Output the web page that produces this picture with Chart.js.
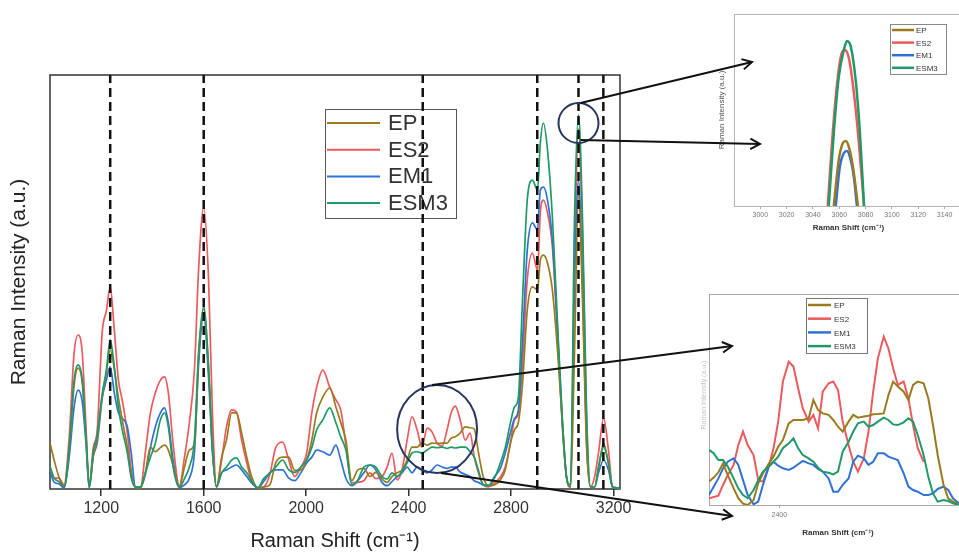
<!DOCTYPE html>
<html>
<head>
<meta charset="utf-8">
<script src="https://cdn.jsdelivr.net/npm/chart.js@4.4.1/dist/chart.umd.min.js"></script>
<style>
  html, body { margin: 0; padding: 0; background: #fff; width: 959px; height: 553px; overflow: hidden; position: relative; }
  canvas { position: absolute; display: block; }
  #main { left: 0; top: 0; z-index: 3; width: 959px; height: 553px; }
  #topInset { left: 700px; top: 0; z-index: 1; width: 275px; height: 240px; }
  #lowInset { left: 700px; top: 285px; z-index: 1; width: 280px; height: 268px; }
</style>
</head>
<body>
<canvas id="topInset" width="275" height="240"></canvas>
<canvas id="lowInset" width="280" height="268"></canvas>
<canvas id="main" width="959" height="553"></canvas>
<script>
const FONT = '"Liberation Sans", Arial, Helvetica, sans-serif';

// Samples and their colours
const sampleNames = ['EP', 'ES2', 'EM1', 'ESM3'];
const sampleColors = ['#9b7a1f', '#ec5a5e', '#2f72d6', '#1f9a66'];
const drawOrder = [1, 3, 2, 0];

// ---- Full spectrum (Raman shift, cm-1) ----
const shifts = [
  1000,1016,1036,1055,1075,1094,1110,1126,1141,1153,
  1169,1184,1204,1220,1235,1251,1267,1282,1302,1317,
  1333,1353,1372,1392,1411,1431,1447,1462,1482,1505,
  1525,1544,1564,1580,1600,1619,1634,1650,1670,1689,
  1709,1728,1748,1768,1787,1811,1834,1858,1881,1908,
  1932,1955,1979,2002,2022,2041,2065,2092,2116,2135,
  2155,2178,2202,2225,2249,2272,2296,2316,2335,2355,
  2374,2394,2413,2433,2452,2472,2491,2511,2531,2550,
  2566,2582,2601,2621,2640,2656,2672,2691,2711,2734,
  2758,2777,2797,2813,2828,2844,2863,2883,2903,2914,
  2926,2942,2961,2981,3000,3016,3032,3047,3063,3079,
  3094,3110,3126,3141,3161,3180,3196,3212,3225
];
const epIntensity = [
  11.1,7,2.7,0.5,9.4,25,29.2,25.6,11.8,0.5,
  8,12,22.5,28,33.6,29,22,16.7,10,3.4,
  0.5,0.3,3.9,10.1,9,10,10.6,9.4,5.3,0.4,
  5.3,9.4,11,32,43.5,29,10,0.5,7.7,11.8,
  18.4,18.4,13.5,7.7,3,0.3,0.5,1,6.3,7.7,
  7.7,4.5,4.6,7,11.8,18.4,22.2,24.4,19.8,16,
  11.8,2,4.6,5,3,4,2.4,1.6,3,3.9,
  4.6,7,10.1,10.1,11.1,10.6,11.1,11,11.1,11.1,
  12.3,12.6,13.5,15,14.8,14.5,9,3,0.8,1,
  2.2,4.6,11,14.3,16,25,43.2,48.8,48.1,55.3,
  56.5,54.6,48.1,33.6,16,3,0.5,32,71,45,
  11,0.5,0.5,5,11,6,0.5,0.3,0.3
];
const es2Intensity = [
  5,2.7,2.6,1,12.6,32.8,37.2,32.8,14.3,0.8,
  10,14,38,43,48.8,38.4,26.3,21.5,13.5,4.6,
  0.5,0.3,8.7,18.4,23.2,26.3,27.1,23.2,10,0.8,
  7.7,16,29,53,68,50.5,18.4,0.5,7,15,
  19.1,18.6,11.8,6.3,2,0.3,0.5,3.5,10,11.3,
  7,3,5.3,8.7,18.4,24.6,28.7,24.6,21.5,19.1,
  10.6,1.5,1.6,2,3.9,2.5,3,5.3,8.7,2.2,
  4.6,11.8,17.4,14.3,10.1,14.7,13.8,11.1,10.4,14.3,
  18.4,20,16.7,11.8,13.5,7.7,4,1,0.5,1.5,
  2.9,5.3,11,16.7,18,30,50.5,57,52.9,66.7,
  69.8,66.7,58.5,37.2,15,3,0.5,54,87,60,
  18,0.5,3,8.7,17.1,9.4,0.5,0.3,0.3
];
const em1Intensity = [
  4,1.7,1.2,0.2,7.7,19.8,23.9,21,10.6,0.3,
  8,11,22,26.3,29.5,23.2,18.4,17.1,15,8.7,
  0.5,0.3,3.5,10,15,18.4,19.6,16,6.3,0.4,
  1,2.6,9,30,42,27,9,0.5,3.9,4.6,
  5.3,5.8,4.6,3,1.5,0.3,1.8,3.9,4.6,4.6,
  2.6,2,3.9,6.3,7.7,9.4,9,8.2,10.6,7,
  2.6,0.8,2,3.9,5.8,4.6,1.6,0.8,1.8,3,
  3.9,5.3,3.9,5.3,4.6,3.9,4.6,5.8,5.3,5,
  5.3,5.3,4.1,3.5,3,2,1.6,1,0.8,2.9,
  5,8.7,13.5,17,19,35,57.7,64.3,62.6,72.2,
  72.9,69.8,60.1,38.4,16,3,0.5,48,74.6,48,
  11.8,0.5,0.5,3.9,7,4.6,0.5,0.3,0.3
];
const esm3Intensity = [
  5.5,2.7,1.7,0.5,10,26.3,30,26.3,12.3,0.4,
  9,13,23,28.7,36,29.5,19.8,14.3,8.7,2.7,
  0.5,0.5,3.9,7.7,11,16.7,18.4,15,4.8,0.4,
  2.5,5.3,12,33,44,29.5,10,0.5,3.9,5.3,
  7,7.5,5.3,3.9,2,0.3,2.5,3.9,5.3,7,
  4.6,4,5.3,7,10,14.3,16.7,19.6,16,12.6,
  9.4,1,2.2,5.3,5.8,5.3,3,2.4,3.9,3,
  4.3,6.3,8.7,9,8.7,9.4,10.1,10,10.1,9.8,
  10.1,9.9,10.1,10.1,9,7.7,4.6,1,0.8,2.5,
  6.3,10,15.9,19.8,22,45,69.8,74.6,72.2,83.6,
  88.4,81.9,65.7,40.1,17,3,1,64,90.3,64.3,
  19.8,0.5,0.5,5.3,10.1,6.3,0.5,0.3,0.3
];
const xTickValues = [1200, 1600, 2000, 2400, 2800, 3200];
const bandPositions = [1235, 1600, 2455, 2902, 3063, 3160];

// ---- Detail around 3065 cm-1 ----
const topTickValues = [3000, 3020, 3040, 3060, 3080, 3100, 3120, 3140];
const topEPx   = [3055.8, 3059.6, 3062.7, 3065.0, 3067.3, 3070.4, 3074.2];
const topEPy   = [0, 24, 32.8, 33.9, 30.7, 20.3, 0];
const topES2x  = [3051.2, 3055.0, 3058.9, 3061.9, 3064.2, 3067.3, 3071.1, 3074.9, 3078.8];
const topES2y  = [0, 38, 67.2, 79.7, 81.3, 77, 58.9, 32.8, 0];
const topEM1x  = [3057.3, 3060.4, 3063.5, 3065.8, 3068.1, 3071.1, 3073.4];
const topEM1y  = [0, 20.3, 27.6, 28.6, 25.5, 15.1, 0];
const topESM3x = [3052.0, 3055.8, 3059.6, 3063.5, 3065.8, 3068.8, 3072.7, 3075.7, 3078.8];
const topESM3y = [0, 38, 67.2, 81.3, 85.9, 82.8, 64, 38, 0];

// ---- Detail around 2400-2550 cm-1 ----
const lowTickValues = [2400];
const lowShifts = [
  2340,2344,2348,2352,2356,2361,2365,2369,2373,2378,
  2382,2386,2391,2395,2399,2403,2408,2412,2416,2420,
  2425,2429,2433,2437,2442,2446,2450,2454,2459,2463,
  2467,2472,2476,2480,2484,2489,2493,2497,2501,2506,
  2510,2514,2518,2523,2527,2531,2535,2540,2544,2548,2553
];
const lowEP = [
  11.1,13,15.5,19.7,14.2,7.9,3.2,0.6,0,2.4,
  10.3,15,19.7,22.9,27.6,30.8,38.7,40.3,40.3,40.3,
  41.1,49.8,45,43.4,42.7,40.3,37.1,34.8,39.5,42.7,
  41.4,41.9,42.3,43,43.1,43.4,52.1,58.5,56.1,53.7,
  49.8,56.9,58.5,57.7,50.6,37.9,23.7,9.5,3.2,1.6,0.3
];
const lowES2 = [
  3.2,3.8,4.4,9.5,14.2,19,28.4,34.8,28.4,23.7,
  11.8,11.1,18.2,26.9,39.5,58.5,67.9,65.6,55.3,45.8,
  39.5,42.7,36.3,53.7,57.7,58.5,54.5,39.5,28.4,20.5,
  15.8,22.1,34.8,53.7,69.5,79.8,74.2,64.8,56.9,58.5,
  50.6,37.9,26.9,20.5,null,null,null,null,null,null,null
];
const lowEM1 = [
  4.7,8.7,12.6,17.4,20.5,22.1,19,11.8,4.7,0.3,
  1.6,9.5,18.2,20.5,18.6,17.4,16.6,17.7,19.3,20.9,
  19.7,19,17.1,15.8,12.6,6.3,6.3,9.5,12.6,20.5,
  23.4,22.1,19,20.5,24.5,24.5,22.9,22.1,21.3,15,
  8.7,7.1,6.3,4.7,4.7,5.5,7.6,8.7,7.1,3.2,0.8
];
const lowESM3 = [
  26.1,24.5,21.3,21.3,18.2,12.6,7.9,4.7,3.2,7.1,
  11.8,15.8,18.2,20.5,22.9,26.9,29.2,31.6,26.9,23.7,
  22.1,20.5,17.7,15.8,15.3,14.5,15.8,25.3,30,34.8,
  38.7,39.5,37.1,37.9,39.5,41.4,40.3,38.2,37.9,39.2,
  41.1,39.5,33.2,23.7,13.4,5.5,1.6,2.4,1.9,0.8,0
];

// Magnified windows marked on the full spectrum
const zoomRegions = [
  { shift: 3063, intensity: 88.4, rx: 20, ry: 20 },
  { shift: 2511, intensity: 14.5, rx: 40, ry: 44 }
];

const pair = (xs, ys) => xs.map((x, i) => ({ x: x, y: ys[i] }));
const plainTick = v => String(v);
const X_TITLE = 'Raman Shift (cm\u207B\u00B9)';
const Y_TITLE = 'Raman Intensity (a.u.)';

function spectrumSets(seriesX, seriesY, width, smooth) {
  return sampleNames.map((name, i) => ({
    label: name,
    data: pair(seriesX[i], seriesY[i]),
    borderColor: sampleColors[i],
    borderWidth: width,
    pointRadius: 0,
    fill: false,
    order: drawOrder[i],
    cubicInterpolationMode: smooth ? 'monotone' : 'default',
    tension: 0
  }));
}

function drawLegend(ctx, x, y, w, h, rowStart, rowGap, lineLen, textGap, fontSize, lineW, frameColor) {
  ctx.save();
  ctx.fillStyle = '#fff';
  ctx.fillRect(x, y, w, h);
  ctx.strokeStyle = frameColor;
  ctx.lineWidth = 1;
  ctx.strokeRect(x + 0.5, y + 0.5, w, h);
  ctx.font = fontSize + 'px ' + FONT;
  ctx.textBaseline = 'middle';
  ctx.textAlign = 'left';
  sampleNames.forEach((n, i) => {
    const yy = y + rowStart + i * rowGap;
    ctx.strokeStyle = sampleColors[i];
    ctx.lineWidth = lineW;
    ctx.beginPath();
    ctx.moveTo(x + 2, yy);
    ctx.lineTo(x + 2 + lineLen, yy);
    ctx.stroke();
    ctx.fillStyle = '#333';
    ctx.fillText(n, x + 2 + lineLen + textGap, yy + 1);
  });
  ctx.restore();
}

function verticalText(ctx, text, x, y, fontSize, color) {
  ctx.save();
  ctx.translate(x, y);
  ctx.rotate(-Math.PI / 2);
  ctx.font = fontSize + 'px ' + FONT;
  ctx.fillStyle = color;
  ctx.textAlign = 'center';
  ctx.textBaseline = 'middle';
  ctx.fillText(text, 0, 0);
  ctx.restore();
}

function arrow(ctx, x0, y0, x1, y1) {
  ctx.beginPath();
  ctx.moveTo(x0, y0);
  ctx.lineTo(x1, y1);
  ctx.stroke();
  const ang = Math.atan2(y1 - y0, x1 - x0), L = 11, w = 0.5;
  ctx.beginPath();
  ctx.moveTo(x1 - L * Math.cos(ang - w), y1 - L * Math.sin(ang - w));
  ctx.lineTo(x1, y1);
  ctx.lineTo(x1 - L * Math.cos(ang + w), y1 - L * Math.sin(ang + w));
  ctx.stroke();
}

// ================= Full spectrum =================
const bandSets = bandPositions.map(b => ({
  label: 'band ' + b,
  data: [{ x: b, y: 0 }, { x: b, y: 100 }],
  borderColor: '#111',
  borderWidth: 2.5,
  borderDash: [9, 5],
  pointRadius: 0,
  order: -1
}));

// where the connector arrows point, in page pixels
const arrowTargets = [[752, 62], [760, 144], [732, 346], [732, 516]];

const mainDecor = {
  id: 'mainDecor',
  beforeDatasetsDraw(chart) {
    const { ctx, chartArea: a } = chart;
    ctx.save();
    ctx.strokeStyle = '#333';
    ctx.lineWidth = 1.5;
    ctx.strokeRect(a.left, a.top, a.right - a.left, a.bottom - a.top);
    ctx.restore();
    drawLegend(ctx, a.left + 275, a.top + 34, 131, 109, 14, 26.7, 53, 8, 22, 2, '#555');
  },
  afterDraw(chart) {
    const { ctx, scales } = chart;
    verticalText(ctx, Y_TITLE, 19, 282, 21, '#222');
    ctx.save();
    const c = zoomRegions.map(r => ({
      x: scales.x.getPixelForValue(r.shift),
      y: scales.y.getPixelForValue(r.intensity),
      rx: r.rx, ry: r.ry
    }));
    ctx.strokeStyle = '#26365f';
    ctx.lineWidth = 2;
    c.forEach(p => {
      ctx.beginPath();
      ctx.ellipse(p.x, p.y, p.rx, p.ry, 0, 0, Math.PI * 2);
      ctx.stroke();
    });
    ctx.strokeStyle = '#111';
    ctx.lineWidth = 2;
    arrow(ctx, c[0].x + 2, c[0].y - c[0].ry, arrowTargets[0][0], arrowTargets[0][1]);
    arrow(ctx, c[0].x + 2, c[0].y + c[0].ry - 3, arrowTargets[1][0], arrowTargets[1][1]);
    arrow(ctx, c[1].x - 5, c[1].y - c[1].ry, arrowTargets[2][0], arrowTargets[2][1]);
    arrow(ctx, c[1].x + 4, c[1].y + c[1].ry, arrowTargets[3][0], arrowTargets[3][1]);
    ctx.restore();
  }
};

new Chart(document.getElementById('main'), {
  type: 'line',
  data: {
    datasets: spectrumSets(
      [shifts, shifts, shifts, shifts],
      [epIntensity, es2Intensity, em1Intensity, esm3Intensity], 1.7, true
    ).concat(bandSets)
  },
  options: {
    responsive: false,
    animation: false,
    devicePixelRatio: 1,
    layout: { padding: { left: 50, top: 75, right: 339, bottom: 0 } },
    plugins: { legend: { display: false }, tooltip: { enabled: false } },
    scales: {
      x: {
        type: 'linear', min: 1000, max: 3225,
        afterBuildTicks: s => { s.ticks = xTickValues.map(v => ({ value: v })); },
        afterFit: s => { s.height = 64; },
        grid: { drawOnChartArea: false, drawTicks: true, tickLength: 7, color: '#333', lineWidth: 1.5 },
        border: { display: false },
        ticks: { color: '#333', font: { family: FONT, size: 16 }, padding: 3, maxRotation: 0, autoSkip: false, callback: plainTick },
        title: { display: true, text: X_TITLE, color: '#222', font: { family: FONT, size: 20 }, padding: { top: 0, bottom: 0 } }
      },
      y: { display: false, min: 0, max: 100 }
    }
  },
  plugins: [mainDecor]
});

// ================= Inset: 3065 band =================
const topDecor = {
  id: 'topDecor',
  beforeDatasetsDraw(chart) {
    const { ctx, chartArea: a } = chart;
    ctx.save();
    ctx.strokeStyle = '#b5b5b5';
    ctx.lineWidth = 1;
    ctx.strokeRect(a.left + 0.5, a.top + 0.5, a.right - a.left, a.bottom - a.top);
    ctx.restore();
  },
  afterDatasetsDraw(chart) {
    const { ctx, chartArea: a } = chart;
    drawLegend(ctx, a.left + 156, a.top + 10, 56, 50, 6, 12.6, 22, 2, 8, 2.5, '#888');
    verticalText(ctx, Y_TITLE, 22, 110, 8, '#555');
  }
};

new Chart(document.getElementById('topInset'), {
  type: 'line',
  data: {
    datasets: spectrumSets(
      [topEPx, topES2x, topEM1x, topESM3x],
      [topEPy, topES2y, topEM1y, topESM3y], 2.5, true
    )
  },
  options: {
    responsive: false,
    animation: false,
    devicePixelRatio: 1,
    layout: { padding: { left: 34, top: 14, right: 12, bottom: 0 } },
    plugins: { legend: { display: false }, tooltip: { enabled: false } },
    scales: {
      x: {
        type: 'linear', min: 2980, max: 3154,
        afterBuildTicks: s => { s.ticks = topTickValues.map(v => ({ value: v })); },
        afterFit: s => { s.height = 34; },
        grid: { drawOnChartArea: false, drawTicks: true, tickLength: 3, color: '#aaa' },
        border: { display: false },
        ticks: { color: '#777', font: { family: FONT, size: 7 }, padding: 2, maxRotation: 0, autoSkip: false, callback: plainTick },
        title: { display: true, text: X_TITLE, color: '#333', font: { family: FONT, size: 8, weight: 'bold' }, padding: { top: 0, bottom: 7 } }
      },
      y: { display: false, min: 0, max: 100 }
    }
  },
  plugins: [topDecor]
});

// ================= Inset: 2400-2550 region =================
const lowDecor = {
  id: 'lowDecor',
  beforeDatasetsDraw(chart) {
    const { ctx, chartArea: a } = chart;
    ctx.save();
    ctx.strokeStyle = '#a8a8a8';
    ctx.lineWidth = 1;
    ctx.strokeRect(a.left + 0.5, a.top + 0.5, a.right - a.left, a.bottom - a.top);
    ctx.restore();
  },
  afterDatasetsDraw(chart) {
    const { ctx, chartArea: a } = chart;
    drawLegend(ctx, a.left + 97, a.top + 4, 61, 55, 7, 13.7, 23, 3, 8, 2.5, '#777');
    verticalText(ctx, Y_TITLE, 4, 110, 7, '#c4c4c4');
  }
};

new Chart(document.getElementById('lowInset'), {
  type: 'line',
  data: {
    datasets: spectrumSets(
      [lowShifts, lowShifts, lowShifts, lowShifts],
      [lowEP, lowES2, lowEM1, lowESM3], 2, false
    )
  },
  options: {
    responsive: false,
    animation: false,
    devicePixelRatio: 1,
    layout: { padding: { left: 9, top: 9, right: 13, bottom: 0 } },
    plugins: { legend: { display: false }, tooltip: { enabled: false } },
    scales: {
      x: {
        type: 'linear', min: 2340, max: 2560,
        afterBuildTicks: s => { s.ticks = lowTickValues.map(v => ({ value: v })); },
        afterFit: s => { s.height = 48; },
        grid: { drawOnChartArea: false, drawTicks: true, tickLength: 3, color: '#aaa' },
        border: { display: false },
        ticks: { color: '#777', font: { family: FONT, size: 7 }, padding: 3, maxRotation: 0, autoSkip: false, callback: plainTick },
        title: { display: true, text: X_TITLE, color: '#333', font: { family: FONT, size: 8, weight: 'bold' }, padding: { top: 0, bottom: 15 } }
      },
      y: { display: false, min: 0, max: 100 }
    }
  },
  plugins: [lowDecor]
});
</script>
</body>
</html>
